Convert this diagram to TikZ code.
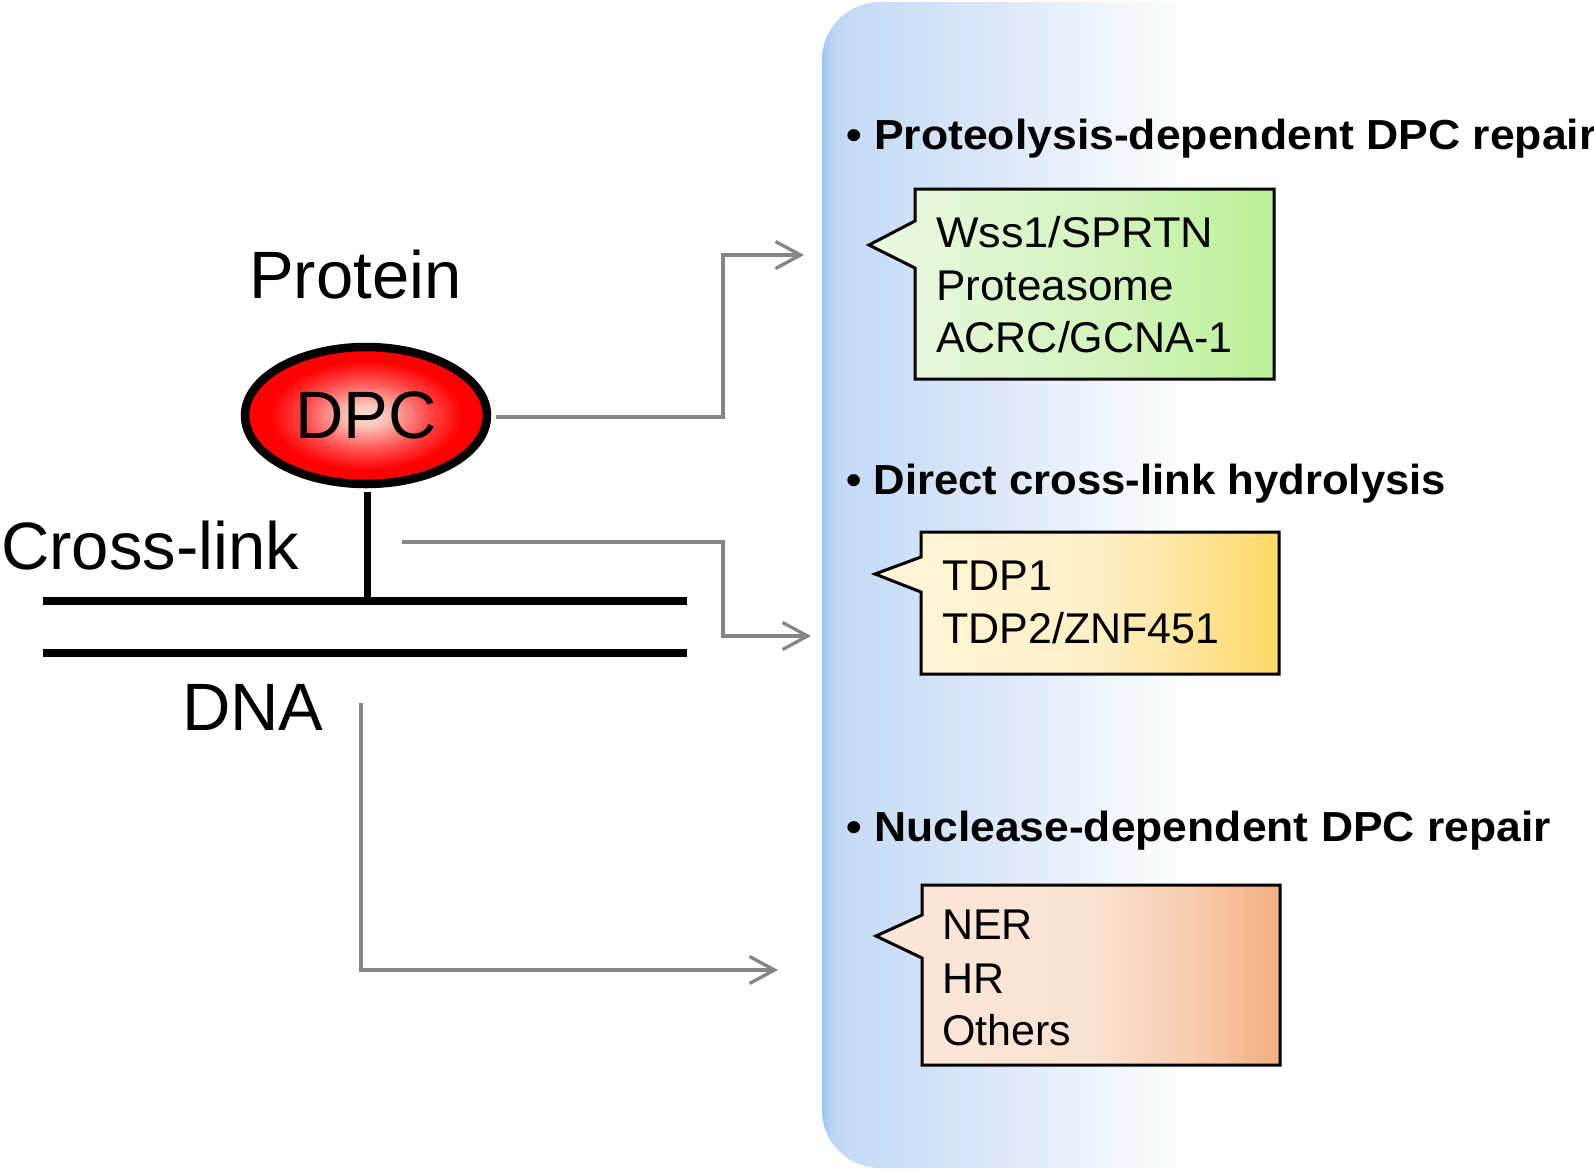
\documentclass[tikz,border=0pt]{standalone}
\usepackage{fontspec}
\setmainfont{Liberation Sans}
\usetikzlibrary{arrows.meta,shapes.geometric}
\definecolor{pA}{HTML}{9CC2F4}
\definecolor{pB}{HTML}{BCD5F6}
\definecolor{pC}{HTML}{C6DBF6}
\definecolor{pD}{HTML}{DCE8F9}
\definecolor{pE}{HTML}{EFF5FD}
\definecolor{gA}{HTML}{EAF9E2}
\definecolor{gB}{HTML}{E6F8DC}
\definecolor{gC}{HTML}{D4F4BF}
\definecolor{gD}{HTML}{BCF198}
\definecolor{yA}{HTML}{FFF5D8}
\definecolor{yB}{HTML}{FFF0C6}
\definecolor{yC}{HTML}{FFE49A}
\definecolor{yD}{HTML}{FFD966}
\definecolor{oA}{HTML}{FBE6D9}
\definecolor{oB}{HTML}{FBE3D3}
\definecolor{oC}{HTML}{F8CDB0}
\definecolor{oD}{HTML}{F2AE80}
\definecolor{dA}{HTML}{FBE0D8}
\definecolor{dB}{HTML}{F9C4BA}
\definecolor{dC}{HTML}{FF4A4A}
\definecolor{dD}{HTML}{FF0000}
\definecolor{arrowgray}{HTML}{858585}
\pgfdeclarehorizontalshading{panelshade}{100bp}{color(0bp)=(pA); color(25bp)=(pA); color(25.65bp)=(pB); color(26.8bp)=(pC); color(36.5bp)=(pD); color(43bp)=(pE); color(49.5bp)=(white); color(100bp)=(white)}
\pgfdeclarehorizontalshading{greenshade}{100bp}{color(0bp)=(gA); color(25bp)=(gA); color(30.7bp)=(gB); color(53.5bp)=(gC); color(75bp)=(gD); color(100bp)=(gD)}
\pgfdeclarehorizontalshading{yellowshade}{100bp}{color(0bp)=(yA); color(25bp)=(yA); color(52.8bp)=(yB); color(64bp)=(yC); color(75bp)=(yD); color(100bp)=(yD)}
\pgfdeclarehorizontalshading{orangeshade}{100bp}{color(0bp)=(oA); color(25bp)=(oA); color(51.5bp)=(oB); color(63.9bp)=(oC); color(75bp)=(oD); color(100bp)=(oD)}
\pgfdeclareradialshading{dpcshade}{\pgfpoint{0bp}{0bp}}{color(0bp)=(dA); color(4bp)=(dB); color(13bp)=(dC); color(20bp)=(dD); color(50bp)=(dD)}
\tikzset{
  conn/.style={draw=arrowgray, line width=3.3pt, -{Straight Barb[length=25pt,width=27pt]}},
  biglbl/.style={inner sep=0pt, anchor=base west, font=\fontsize{67}{80}\selectfont},
  boxtxt/.style={inner sep=0pt, anchor=base west, font=\fontsize{43}{52}\selectfont},
  heading/.style={inner sep=0pt, anchor=base west, font=\fontsize{42}{50}\selectfont\bfseries},
  callout/.style={draw=black, line width=3pt, line join=miter},
  dnaline/.style={line width=8pt, black}
}
\newcommand{\hstretch}[2]{\scalebox{#1}[1]{#2}}
\begin{document}
\begin{tikzpicture}[x=1pt,y=-1pt]
\useasboundingbox (0,0) rectangle (1594,1170);
\fill[white] (0,0) rectangle (1594,1170);
% panel
\shade[shading=panelshade] (1594,2) [rounded corners=58pt] -- (822,2) -- (822,1168) [sharp corners] -- (1594,1168) -- cycle;
% headings
\node[heading] (h1) at (846,149) {\hstretch{1.06}{• Proteolysis-dependent DPC repair}};
\node[heading] (h2) at (846,494) {\hstretch{1.039}{• Direct cross-link hydrolysis}};
\node[heading] (h3) at (846,841) {\hstretch{1.058}{• Nuclease-dependent DPC repair}};
% callout boxes
\path[callout, shade, shading=greenshade] (915,189) -- (1274,189) -- (1274,379) -- (915,379) -- (915,268) -- (869,245) -- (915,221) -- cycle;
\path[callout, shade, shading=yellowshade] (921,532) -- (1279,532) -- (1279,674) -- (921,674) -- (921,592) -- (875,574) -- (921,557) -- cycle;
\path[callout, shade, shading=orangeshade] (922,885) -- (1280,885) -- (1280,1065) -- (922,1065) -- (922,958) -- (876,936) -- (922,915) -- cycle;
% box texts
\node[boxtxt] (b1a) at (936,247) {\hstretch{1.048}{Wss1/SPRTN}};
\node[boxtxt] (b1b) at (936,300) {\hstretch{1.025}{Proteasome}};
\node[boxtxt] (b1c) at (936,352) {ACRC/GCNA-1};
\node[boxtxt] (b2a) at (942,590) {TDP1};
\node[boxtxt] (b2b) at (942,643) {TDP2/ZNF451};
\node[boxtxt] (b3a) at (942,939) {NER};
\node[boxtxt] (b3b) at (942,993) {HR};
\node[boxtxt] (b3c) at (942,1045) {Others};
% left: DNA, cross-link, protein
\coordinate (dnaTL) at (43,601);
\coordinate (dnaTR) at (687,601);
\coordinate (dnaBL) at (43,653);
\coordinate (dnaBR) at (687,653);
\draw[dnaline] (dnaTL) -- (dnaTR);
\draw[dnaline] (dnaBL) -- (dnaBR);
\node[ellipse, draw=black, line width=8.5pt, minimum width=242pt, minimum height=137pt, inner sep=0pt, shade, shading=dpcshade, font=\fontsize{67}{80}\selectfont] (dpc) at (366,415.5) {DPC};
\coordinate (xlTop) at (367,492);
\coordinate (xlBot) at (367,601);
\draw[line width=7pt, black] (xlTop) -- (xlBot);
\node[biglbl] (protein) at (249,298) {Protein};
\node[biglbl] (crosslink) at (1,569) {Cross-link};
\node[biglbl] (dna) at (182,730) {DNA};
% connectors
\coordinate (a1s) at (496,417);
\coordinate (t1) at (804,255);
\coordinate (a2s) at (402,542);
\coordinate (t2) at (811,636);
\coordinate (a3s) at (361,703);
\coordinate (t3) at (778,970);
\draw[conn] (a1s) -- (723,417) |- (t1);
\draw[conn] (a2s) -- (723,542) |- (t2);
\draw[conn] (a3s) |- (t3);
\end{tikzpicture}
\end{document}
